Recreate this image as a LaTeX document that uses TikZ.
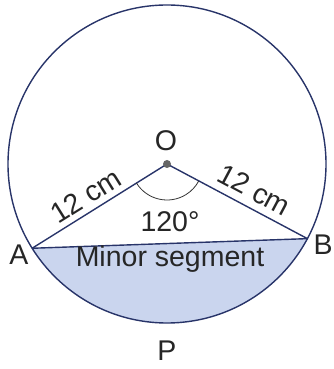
\documentclass[tikz,border=0pt]{standalone}
\usepackage{fontspec}
\setmainfont{Liberation Sans}
\usetikzlibrary{calc}
\definecolor{inkblue}{RGB}{40,52,105}
\definecolor{segfill}{RGB}{202,213,238}
\tikzset{
  lbl/.style={font=\fontsize{28.5}{31}\selectfont, text=black!85, inner sep=0pt},
}
\begin{document}
\begin{tikzpicture}[x=1pt,y=1pt,line width=1.4pt]
        \useasboundingbox (0,0) rectangle (333,369);
        % centre O and the ends of the chord
        \coordinate (O) at (167,205);
        \coordinate (A) at ($(O)+(212:159)$);
        \coordinate (B) at ($(O)+(332:159)$);

        % minor segment
        \fill[segfill] (A) arc[start angle=212, end angle=332, radius=159] -- cycle;

        % circle, radii and chord
        \draw[inkblue] (O) circle[radius=159];
        \draw[inkblue] (A) -- (O) -- (B);
        \draw[inkblue] (A) -- (B);

        % angle at the centre
        \draw[black!80, line width=0.8pt] ($(O)+(212:36)$) arc[start angle=212, end angle=332, radius=36];
        \fill[black!60] (O) circle[radius=4];

        % labels
        \node[lbl] (lO) at (166,228) {O};
        \node[lbl] (lA) at (19,114) {A};
        \node[lbl] (lB) at (323,124) {B};
        \node[lbl] (lP) at (167,18) {P};
        \node[lbl] (ang) at (170,147) {120°};
        \node[lbl] (seg) at (170,110) {Minor segment};
        \node[lbl, rotate=32] (ra) at (86,173) {12 cm};
        \node[lbl, rotate=-28] (rb) at (254,179) {12 cm};
    \end{tikzpicture}
\end{document}
